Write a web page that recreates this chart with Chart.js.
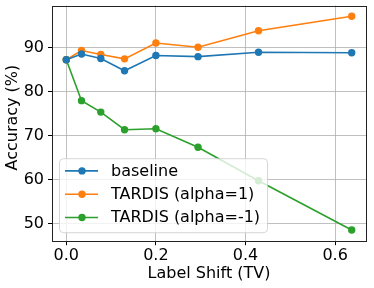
<!DOCTYPE html>
<html>
<head>
<meta charset="utf-8">
<script src="https://cdn.jsdelivr.net/npm/chart.js@4.4.1/dist/chart.umd.min.js"></script>
<style>
html,body{margin:0;padding:0;background:#fff;}
#wrap{width:374px;height:288px;position:relative;}
</style>
</head>
<body>
<div id="wrap"><canvas id="c" width="374" height="288"></canvas></div>
<script>
const shifts = [0.0, 0.034, 0.077, 0.130, 0.200, 0.294, 0.429, 0.637];
const baseline = [87.3, 88.6, 87.6, 84.8, 88.25, 88.0, 89.0, 88.9];
const tardisPos = [87.3, 89.4, 88.5, 87.5, 91.1, 90.15, 93.9, 97.2];
const tardisNeg = [87.3, 78.0, 75.4, 71.4, 71.6, 67.4, 59.8, 48.6];
const seriesLabels = ['baseline', 'TARDIS (alpha=1)', 'TARDIS (alpha=-1)'];
const xTicks = [0.0, 0.2, 0.4, 0.6];
const yTicks = [50, 60, 70, 80, 90];
const xTitle = 'Label Shift (TV)';
const yTitle = 'Accuracy (%)';

const colors = ['#1f77b4', '#ff7f0e', '#2ca02c'];
const FONT = "'DejaVu Sans', sans-serif";
const tickFont = {family: "'DejaVu Sans', sans-serif", size: 16};

function pts(vals){ return shifts.map((x,i)=>({x:x, y:vals[i]})); }
const allSeries = [baseline, tardisPos, tardisNeg];

const datasets = allSeries.map((vals,i)=>({
  label: seriesLabels[i],
  data: pts(vals),
  borderColor: colors[i],
  backgroundColor: colors[i],
  borderWidth: 1.6,
  pointRadius: 3.7,
  pointHoverRadius: 3.7,
  pointBorderWidth: 0,
  tension: 0,
  fill: false
}));

const frame = {
  id: 'frame',
  afterDatasetsDraw(chart){
    const {ctx, chartArea:a} = chart;
    ctx.save();
    ctx.strokeStyle = '#222';
    ctx.lineWidth = 1;
    ctx.strokeRect(Math.round(a.left)+0.5, Math.round(a.top)+0.5, Math.round(a.right-a.left), Math.round(a.bottom-a.top));
    ctx.restore();
  }
};

const yTitlePlugin = {
  id: 'yTitlePlugin',
  afterDraw(chart){
    const {ctx, chartArea:a} = chart;
    ctx.save();
    ctx.font = "16px " + FONT;
    ctx.fillStyle = '#000';
    ctx.translate(12.5, (a.top + a.bottom)/2 - 5.5);
    ctx.rotate(-Math.PI/2);
    ctx.textAlign = 'center';
    ctx.textBaseline = 'middle';
    ctx.fillText(yTitle, 0, 0);
    ctx.restore();
  }
};

const legendBox = {
  id: 'legendBox',
  afterDraw(chart){
    const {ctx, chartArea:a} = chart;
    ctx.save();
    ctx.font = "16px " + FONT;
    const w = Math.max(...seriesLabels.map(s=>ctx.measureText(s).width));
    const left = a.left + 7, bottom = a.bottom - 8.5;
    const rowH = 23.3, h = 74;
    const top = bottom - h;
    const bw = 52 + w + 7;
    ctx.beginPath();
    if (ctx.roundRect) ctx.roundRect(left+0.5, top+0.5, bw, h, 4); else ctx.rect(left+0.5, top+0.5, bw, h);
    ctx.fillStyle = 'rgba(255,255,255,0.8)';
    ctx.fill();
    ctx.strokeStyle = 'rgba(204,204,204,0.8)';
    ctx.lineWidth = 1;
    ctx.stroke();
    seriesLabels.forEach((s,i)=>{
      const cy = top + 12.7 + i*rowH;
      ctx.strokeStyle = colors[i];
      ctx.lineWidth = 1.6;
      ctx.beginPath();
      ctx.moveTo(left+6, cy); ctx.lineTo(left+39, cy); ctx.stroke();
      ctx.fillStyle = colors[i];
      ctx.beginPath(); ctx.arc(left+23, cy, 3.7, 0, Math.PI*2); ctx.fill();
      ctx.fillStyle = '#000';
      ctx.textBaseline = 'middle';
      ctx.textAlign = 'left';
      ctx.fillText(s, left+52, cy+0.5);
    });
    ctx.restore();
  }
};

new Chart(document.getElementById('c'), {
  type: 'line',
  data: {datasets},
  plugins: [frame, yTitlePlugin, legendBox],
  options: {
    responsive: false,
    animation: false,
    layout: {padding: {top: 5.5, right: 8, left: 0, bottom: 0}},
    plugins: {legend: {display: false}, tooltip: {enabled: false}},
    scales: {
      x: {
        type: 'linear',
        min: -0.0319, max: 0.6689,
        afterBuildTicks: s => { s.ticks = xTicks.map(v=>({value:v})); },
        afterFit: s => { s.height = 47.3; s.paddingLeft = 0; s.paddingRight = 0; },
        border: {display: false},
        grid: {color: '#b0b0b0', lineWidth: 0.8, tickLength: 4.5, tickColor: '#000', tickWidth: 1},
        ticks: {font: tickFont, color: '#000', padding: 1, maxRotation: 0, callback: v => v.toFixed(1)},
        title: {display: true, text: xTitle, font: tickFont, color: '#000', padding: {top: 2, bottom: 5}}
      },
      y: {
        type: 'linear',
        min: 46.17, max: 99.63,
        afterBuildTicks: s => { s.ticks = yTicks.map(v=>({value:v})); },
        afterFit: s => { s.width = 52; s.paddingTop = 0; s.paddingBottom = 0; },
        border: {display: false},
        grid: {color: '#b0b0b0', lineWidth: 0.8, tickLength: 4, tickColor: '#000', tickWidth: 1},
        ticks: {font: tickFont, color: '#000', padding: 4, callback: v => String(v)},
        title: {display: false, text: yTitle}
      }
    }
  }
});
</script>
</body>
</html>
